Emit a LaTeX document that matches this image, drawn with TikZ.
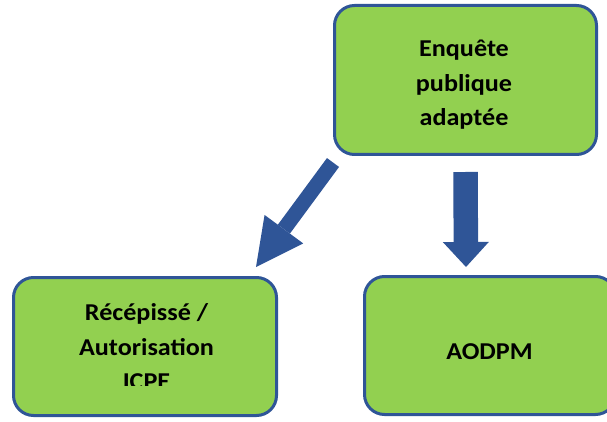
\documentclass[tikz,border=0pt]{standalone}
\usepackage{fontspec}
\setmainfont{Carlito}[FakeStretch=1.08]
\usetikzlibrary{arrows.meta}
\definecolor{boxfill}{HTML}{92D050}
\definecolor{boxline}{HTML}{2F5597}
\begin{document}
\begin{tikzpicture}[x=1pt,y=-1pt,
  stage/.style={draw=boxline, line width=3pt, fill=boxfill, rounded corners=20pt, inner sep=0pt},
  txt/.style={font=\bfseries\fontsize{24.2}{34.5}\selectfont, align=center, text=black, inner sep=0pt, anchor=base},
  fatarrow/.style={draw=boxline, line cap=butt}]
\useasboundingbox (0,0) rectangle (607,422);
\clip (0,0) rectangle (607,422);
% boxes
\node[stage, minimum width=262pt, minimum height=149pt] (top) at (465.5,80) {};
\node[stage, minimum width=263pt, minimum height=138pt] (left) at (145,346.5) {};
\node[stage, minimum width=251pt, minimum height=138pt] (right) at (490,345.5) {};
% texts
\node[txt] (toptxt) at (464,126) {Enquête\\publique\\adaptée};
\begin{scope}
  \clip (0,0) rectangle (607,385);
  \node[txt] (lefttxt) at (146.5,389.5) {Récépissé /\\Autorisation\\ICPE};
\end{scope}
\node[txt] (righttxt) at (489.5,359) {AODPM};
% arrows
\coordinate (v1) at (465.5,172);
\coordinate (v2) at (466,267);
\coordinate (d1) at (333,162.5);
\coordinate (d2) at (256,267);
\draw[fatarrow, line width=24.5pt, -{Triangle[width=46pt,length=25pt,line width=0pt]}] (v1) -- (v2);
\draw[fatarrow, line width=15pt, -{Triangle[width=48pt,length=47pt,line width=0pt]}] (d1) -- (d2);
\end{tikzpicture}
\end{document}
